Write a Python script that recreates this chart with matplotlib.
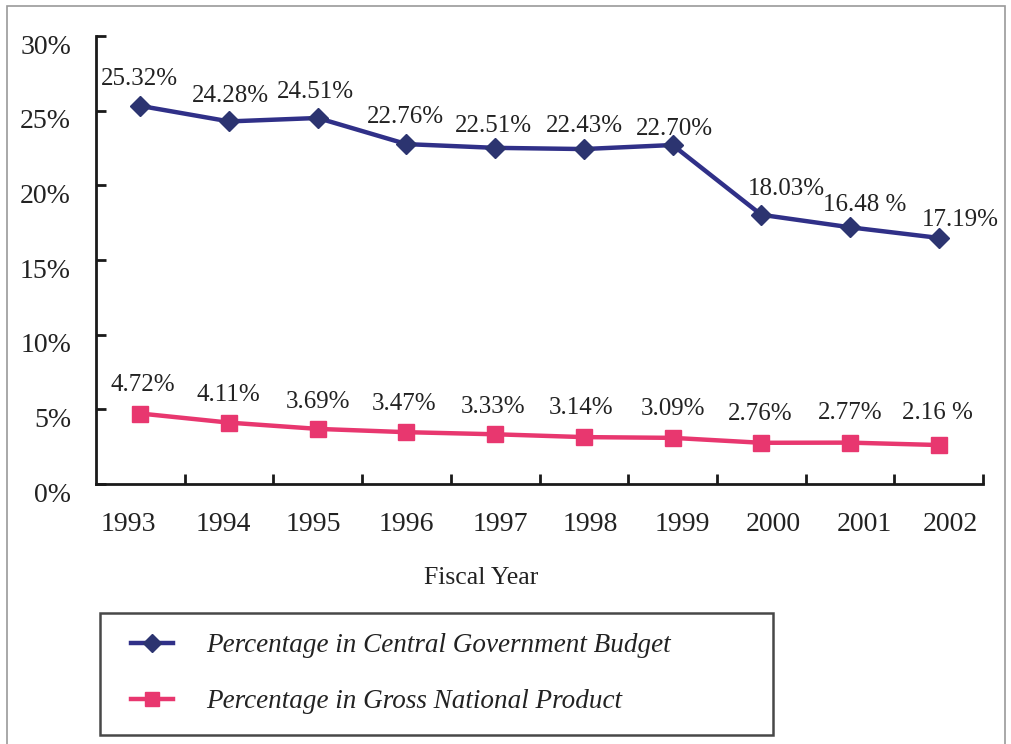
import matplotlib
matplotlib.use('Agg')
import matplotlib.pyplot as plt
import matplotlib.transforms as mtrans
from matplotlib.patches import Rectangle
from matplotlib.ticker import FixedLocator, NullFormatter
from matplotlib.legend_handler import HandlerLine2D

# ---- data ----
years = ['1993', '1994', '1995', '1996', '1997', '1998', '1999', '2000', '2001', '2002']
budget_pct = [25.32, 24.28, 24.51, 22.76, 22.51, 22.43, 22.70, 18.03, 17.19, 16.48]
budget_labels = ['25.32%', '24.28%', '24.51%', '22.76%', '22.51%', '22.43%', '22.70%',
                 '18.03%', '16.48 %', '17.19%']
gnp_pct = [4.72, 4.11, 3.69, 3.47, 3.33, 3.14, 3.09, 2.76, 2.77, 2.61]
gnp_labels = ['4.72%', '4.11%', '3.69%', '3.47%', '3.33%', '3.14%', '3.09%',
              '2.76%', '2.77%', '2.16 %']
ytick_values = [0, 5, 10, 15, 20, 25, 30]
ytick_labels = ['0%', '5%', '10%', '15%', '20%', '25%', '30%']
series_names = ['Percentage in Central Government Budget', 'Percentage in Gross National Product']
x_title = 'Fiscal Year'

# label offsets in pixels (styling)
budget_offsets = [(-1, 27), (1, 25), (-2, 26), (-1, 27), (-2, 22), (1, 23), (2, 16),
                  (25, 26), (15, 22), (22, 18)]
gnp_offsets = [(2, 29), (-1, 28), (0, 27), (-2, 28), (-2, 27), (-3, 29), (0, 29),
               (-1, 29), (0, 30), (-1, 32)]
xtick_shift_px = [-11.5, -6, -4.5, 0, 5, 6.5, 9.5, 12, 14, 11.5]

BLUE = '#303088'
BLUE_MK = '#2c3470'
PINK = '#e8376f'
FONT = 'Liberation Serif'
TXT = '#222222'

plt.rcParams['font.family'] = FONT


class ShiftedLineHandler(HandlerLine2D):
    def __init__(self, shift_pt=0, **kw):
        super().__init__(**kw)
        self.shift_pt = shift_pt

    def create_artists(self, legend, orig_handle, xdescent, ydescent, width,
                       height, fontsize, trans):
        return super().create_artists(legend, orig_handle, xdescent - self.shift_pt,
                                      ydescent, width, height, fontsize, trans)


W, H = 1012, 744
fig = plt.figure(figsize=(W / 100, H / 100), dpi=100)
fig.patch.set_facecolor('white')

# outer frame
fig.add_artist(Rectangle((7 / W, -0.01), (1005 - 7) / W, 1 - 6 / H + 0.01,
                         transform=fig.transFigure, fill=False,
                         edgecolor='#9a9a9a', lw=1.2))

left, right = 96 / W, 983 / W
bottom, top = 1 - 484 / H, 1 - 36 / H
ax = fig.add_axes([left, bottom, right - left, top - bottom])

x = list(range(len(years)))
l1, = ax.plot(x, budget_pct, color=BLUE, lw=3.2, marker='D', ms=10,
              mfc=BLUE_MK, mec=BLUE_MK, label=series_names[0], zorder=3)
l2, = ax.plot(x, gnp_pct, color=PINK, lw=3.2, marker='s', ms=11,
              mfc=PINK, mec=PINK, label=series_names[1], zorder=3)

for xi, v, t, (dx, dy) in zip(x, budget_pct, budget_labels, budget_offsets):
    ax.annotate(t, (xi, v), xytext=(dx, dy), textcoords='offset pixels',
                ha='center', va='center', fontsize=18, color=TXT)
for xi, v, t, (dx, dy) in zip(x, gnp_pct, gnp_labels, gnp_offsets):
    ax.annotate(t, (xi, v), xytext=(dx, dy), textcoords='offset pixels',
                ha='center', va='center', fontsize=18, color=TXT)

ax.set_xlim(-0.5, len(years) - 0.5)
ax.set_ylim(0, 30)

for s in ['top', 'right']:
    ax.spines[s].set_visible(False)
for s in ['left', 'bottom']:
    ax.spines[s].set_linewidth(2)
    ax.spines[s].set_color('#1a1a1a')

ax.set_yticks(ytick_values)
ax.set_yticklabels(ytick_labels)
ax.tick_params(axis='y', direction='in', length=7, width=2, color='#1a1a1a',
               labelsize=20, pad=18, labelcolor=TXT)
off = mtrans.ScaledTranslation(0, -8 / 100, fig.dpi_scale_trans)
for lab in ax.get_yticklabels():
    lab.set_transform(lab.get_transform() + off)

ax.set_xticks(x)
ax.set_xticklabels(years)
ax.xaxis.set_minor_locator(FixedLocator([i + 0.5 for i in x]))
ax.xaxis.set_minor_formatter(NullFormatter())
ax.tick_params(axis='x', which='major', length=0, labelsize=20, pad=20,
               labelcolor=TXT)
ax.tick_params(axis='x', which='minor', direction='in', length=7, width=2,
               color='#1a1a1a')
for lab, sh in zip(ax.get_xticklabels(), xtick_shift_px):
    lab.set_transform(lab.get_transform() +
                      mtrans.ScaledTranslation(sh / 100, 0, fig.dpi_scale_trans))

fig.text(481 / W, 1 - 578 / H, x_title, ha='center', va='center',
         fontsize=18.5, color=TXT)

fs = 19.5
leg = fig.legend(handles=[l1, l2], labels=series_names, loc='upper left',
                 bbox_to_anchor=(100 / W, 1 - 613 / H - 0.01, (773 - 100) / W, 0.01),
                 mode='expand', borderaxespad=0, frameon=True, fancybox=False,
                 edgecolor='#1a1a1a', prop={'family': FONT, 'style': 'italic', 'size': fs},
                 handlelength=1.55, handletextpad=1.62, borderpad=0.75, labelspacing=1.15,
                 markerscale=0.95,
                 handler_map={l1: ShiftedLineHandler(shift_pt=7.5),
                              l2: ShiftedLineHandler(shift_pt=7.5)})
leg.get_frame().set_linewidth(1.8)
for t in leg.get_texts():
    t.set_color(TXT)

fig.savefig('out.png', dpi=100, facecolor='white')
